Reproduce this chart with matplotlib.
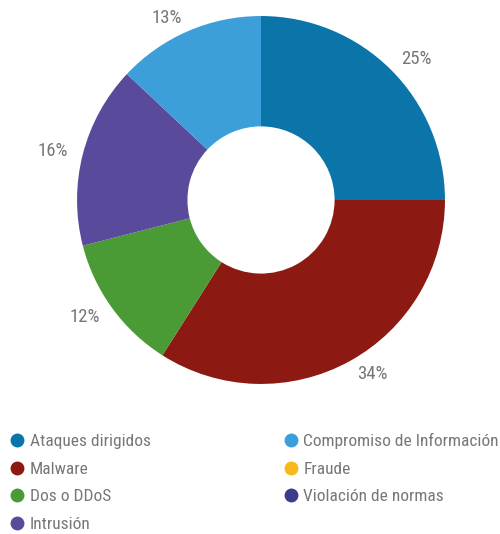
import numpy as np
import matplotlib.pyplot as plt
from matplotlib.lines import Line2D

categories = ['Ataques dirigidos', 'Malware', 'Dos o DDoS', 'Intrusión',
              'Compromiso de Información', 'Fraude', 'Violación de normas']
values = [25, 34, 12, 16, 13, 0, 0]
colors = ['#0b74a8', '#8c1a12', '#4a9a35', '#5a4a9c', '#3d9fd9', '#f7b81c', '#3e3a8a']

plt.rcParams['font.family'] = ['Roboto Condensed', 'DejaVu Sans']

fig = plt.figure(figsize=(5.0, 5.34), dpi=100)
ax = fig.add_axes([0.154, 0.281, 0.736, 0.689])

wedges, texts = ax.pie(
    values, colors=colors, startangle=90, counterclock=False, radius=1,
    wedgeprops=dict(width=0.6, linewidth=0))
ax.set_xlim(-1, 1)
ax.set_ylim(-1, 1)
ax.set_aspect('equal')

# percentage labels just outside each wedge
total = sum(values)
for w, v in zip(wedges, values):
    if v == 0:
        continue
    ang = np.deg2rad((w.theta1 + w.theta2) / 2)
    x, y = 1.08 * np.cos(ang), 1.08 * np.sin(ang)
    ax.text(x, y, f'{100 * v / total:.0f}%', ha='left' if x > 0 else 'right',
            va='center', fontsize=13.5, color='#777777')

handles = [Line2D([], [], marker='o', linestyle='none', markersize=10,
                  markerfacecolor=c, markeredgecolor='none') for c in colors]
fig.legend(handles, categories, loc='upper left', bbox_to_anchor=(0.0, 1 - 426 / 534),
           ncol=2, frameon=False, fontsize=12.5, labelcolor='#777777',
           handletextpad=0.1, columnspacing=7.5, labelspacing=0.72,
           handlelength=1.2, borderaxespad=0)

fig.savefig('out.png', dpi=100)
